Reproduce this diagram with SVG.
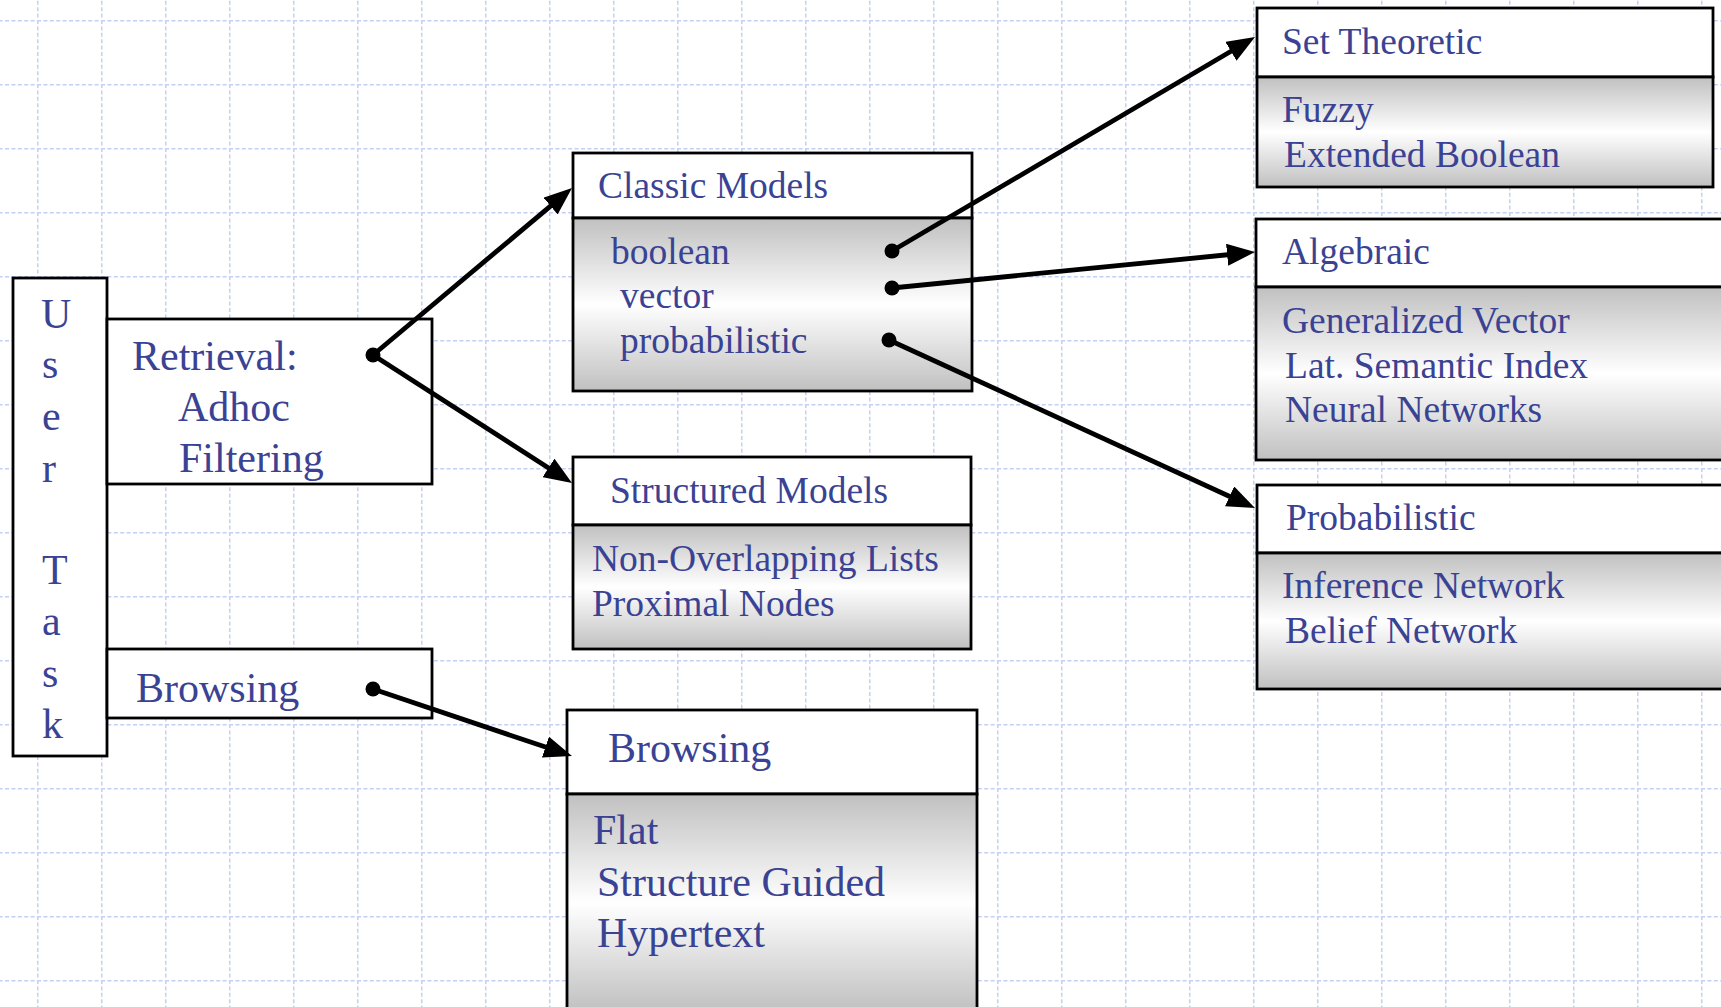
<svg xmlns="http://www.w3.org/2000/svg" width="1721" height="1007" viewBox="0 0 1721 1007">
  <defs>
    <!-- light blue dashed background grid, 64px cells -->
    <pattern id="grid" x="37" y="20" width="64" height="64" patternUnits="userSpaceOnUse">
      <path d="M0,0 V64" stroke="#c2d0f6" stroke-width="3" stroke-dasharray="4 2.4" fill="none"/>
      <path d="M0,0 H64" stroke="#c2d0f6" stroke-width="3" stroke-dasharray="4 2.4" fill="none"/>
    </pattern>
    <!-- grey-white-grey shading of the box bodies -->
    <linearGradient id="shade" x1="0" y1="0" x2="0" y2="1">
      <stop offset="0" stop-color="#c0c0c0"/>
      <stop offset="0.5" stop-color="#ffffff"/>
      <stop offset="1" stop-color="#c0c0c0"/>
    </linearGradient>
    <marker id="head" markerUnits="userSpaceOnUse" markerWidth="28" markerHeight="22" refX="8" refY="11" orient="auto">
      <path d="M0,0 L28,11 L0,22 Z" fill="#000"/>
    </marker>
    <style>
      .box { fill: #ffffff; stroke: #000; stroke-width: 2.8; }
      .body { fill: url(#shade); stroke: #000; stroke-width: 2.8; }
      .t { font-family: "Liberation Serif", "Times New Roman", serif; fill: #3a4393; }
      .big { font-size: 42px; }
      .small { font-size: 37.5px; }
      .wire { stroke: #000; stroke-width: 4.8; fill: none; marker-end: url(#head); }
      .dot { fill: #000; }
    </style>
  </defs>

  <rect width="1721" height="1007" fill="#ffffff"/>
  <rect width="1721" height="1007" fill="url(#grid)"/>

  <!-- User Task column -->
  <g id="user-task">
    <rect class="box" x="13" y="278" width="94" height="478"/>
    <g class="t big">
      <text x="41" y="328">U</text>
      <text x="42" y="378">s</text>
      <text x="42" y="430">e</text>
      <text x="42" y="482">r</text>
      <text x="42" y="584">T</text>
      <text x="42" y="635">a</text>
      <text x="42" y="687">s</text>
      <text x="42" y="738">k</text>
    </g>
  </g>

  <g id="retrieval">
    <rect class="box" x="107" y="319" width="325" height="165"/>
    <g class="t big">
      <text x="132" y="370">Retrieval:</text>
      <text x="178" y="421">Adhoc</text>
      <text x="179" y="472">Filtering</text>
    </g>
  </g>

  <g id="browsing-task">
    <rect class="box" x="107" y="649" width="325" height="69"/>
    <text class="t big" x="136" y="702">Browsing</text>
  </g>

  <g id="classic-models">
    <rect class="box" x="573" y="153" width="399" height="65"/>
    <rect class="body" x="573" y="218" width="399" height="173"/>
    <g class="t small">
      <text x="598" y="198">Classic Models</text>
      <text x="611" y="264">boolean</text>
      <text x="620" y="308">vector</text>
      <text x="620" y="353">probabilistic</text>
    </g>
  </g>

  <g id="structured-models">
    <rect class="box" x="573" y="457" width="398" height="68"/>
    <rect class="body" x="573" y="525" width="398" height="124"/>
    <g class="t small">
      <text x="610" y="503">Structured Models</text>
      <text x="592" y="571">Non-Overlapping Lists</text>
      <text x="592" y="616">Proximal Nodes</text>
    </g>
  </g>

  <g id="browsing-models">
    <rect class="box" x="567" y="710" width="410" height="84"/>
    <rect class="body" x="567" y="794" width="410" height="218"/>
    <g class="t big">
      <text x="608" y="762">Browsing</text>
      <text x="593" y="844">Flat</text>
      <text x="597" y="896">Structure Guided</text>
      <text x="597" y="947">Hypertext</text>
    </g>
  </g>

  <g id="set-theoretic">
    <rect class="box" x="1257" y="8" width="456" height="69"/>
    <rect class="body" x="1257" y="77" width="456" height="110"/>
    <g class="t small">
      <text x="1282" y="54">Set Theoretic</text>
      <text x="1282" y="122">Fuzzy</text>
      <text x="1284" y="167">Extended Boolean</text>
    </g>
  </g>

  <g id="algebraic">
    <rect class="box" x="1256" y="219" width="480" height="68"/>
    <rect class="body" x="1256" y="287" width="480" height="173"/>
    <g class="t small">
      <text x="1282" y="264">Algebraic</text>
      <text x="1282" y="333">Generalized Vector</text>
      <text x="1285" y="378">Lat. Semantic Index</text>
      <text x="1285" y="422">Neural Networks</text>
    </g>
  </g>

  <g id="probabilistic">
    <rect class="box" x="1257" y="485" width="480" height="68"/>
    <rect class="body" x="1257" y="553" width="480" height="136"/>
    <g class="t small">
      <text x="1286" y="530">Probabilistic</text>
      <text x="1282" y="598">Inference Network</text>
      <text x="1285" y="643">Belief Network</text>
    </g>
  </g>

  <!-- connectors: dot at the source, arrowhead at the target -->
  <g id="connectors">
    <line class="wire" x1="373" y1="355" x2="556.7" y2="200.9"/>
    <line class="wire" x1="373" y1="355" x2="555.2" y2="472.2"/>
    <line class="wire" x1="373" y1="689" x2="553.0" y2="749.6"/>
    <line class="wire" x1="892" y1="251" x2="1237.8" y2="47.2"/>
    <line class="wire" x1="892" y1="288" x2="1235.1" y2="254.0"/>
    <line class="wire" x1="889" y1="340" x2="1236.8" y2="499.7"/>
    <circle class="dot" cx="373" cy="355" r="7.5"/>
    <circle class="dot" cx="373" cy="689" r="7.5"/>
    <circle class="dot" cx="892" cy="251" r="7.5"/>
    <circle class="dot" cx="892" cy="288" r="7.5"/>
    <circle class="dot" cx="889" cy="340" r="7.5"/>
  </g>
</svg>
